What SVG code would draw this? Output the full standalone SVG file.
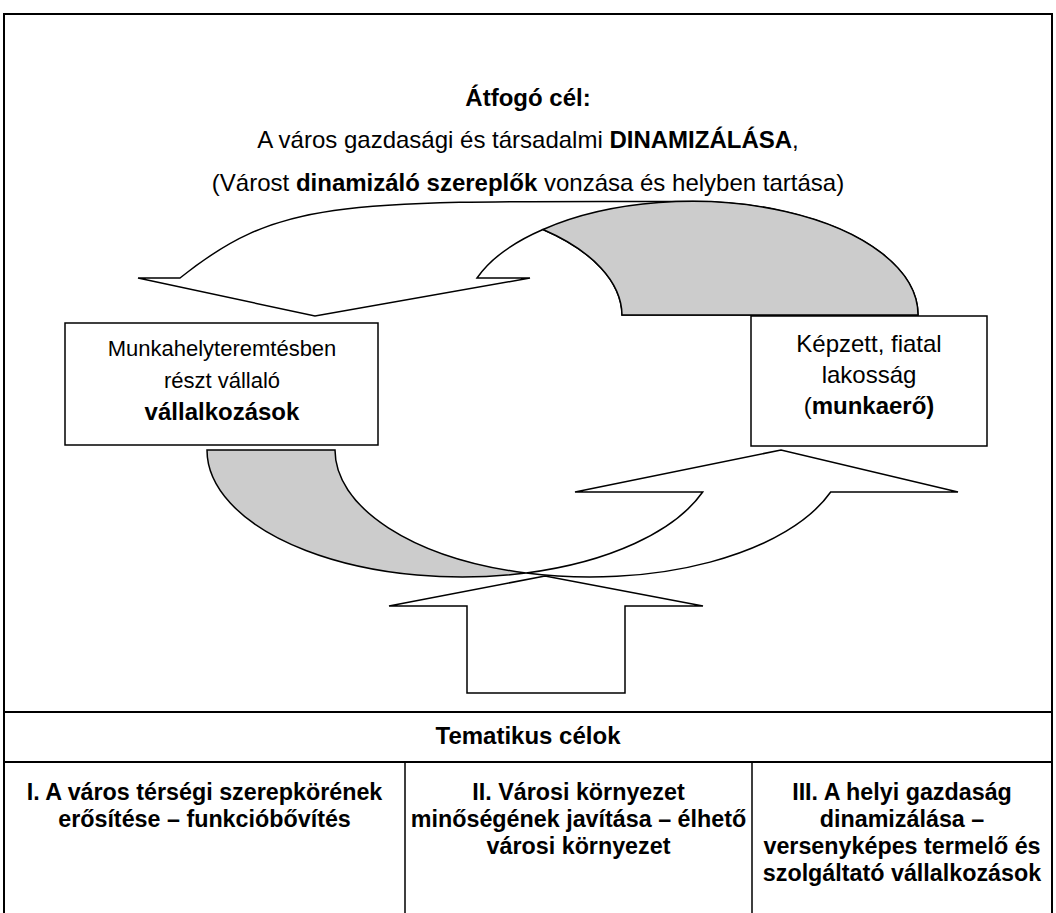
<svg xmlns="http://www.w3.org/2000/svg" width="1056" height="913" viewBox="0 0 1056 913">
<style>
.t{font-family:"Liberation Sans",Arial,sans-serif;font-size:24px;fill:#000;text-anchor:middle}
.b{font-weight:bold}
.s22{font-size:22px}
.s23{font-size:23.3px}
.frame{stroke:#000;stroke-width:2;fill:none}
.div{stroke:#000;stroke-width:1.5;fill:none}
.sh{stroke:#000;stroke-width:1.5;stroke-linejoin:miter;fill:none}
.grey{fill:#cccccc}
.box{stroke:#000;stroke-width:1.5;fill:none}
</style>
<rect width="1056" height="913" fill="#fff"/>
<g id="frame">
<path class="frame" d="M4,913 V14 H1052 V913"/>
<path class="frame" d="M4,712 H1052 M4,762 H1052"/>
<path class="div" d="M405,762 V913 M752,762 V913"/>
</g>
<g id="overall-goal">
<text class="t b" x="528" y="106">Átfogó cél:</text>
<text class="t" x="528" y="148">A város gazdasági és társadalmi <tspan class="b">DINAMIZÁLÁSA</tspan>,</text>
<text class="t" x="528" y="191">(Várost <tspan class="b">dinamizáló szereplők</tspan> vonzása és helyben tartása)</text>
</g>
<g id="connectors">
<path class="sh" d="M138,278 L180,278 C280,198 340,201 690,201.5 A226,113.5 0 0 1 918,315 L622,315 A226,113.5 0 0 0 543,229.5 A226,113.5 0 0 0 477,278 L530,278 L315,316 Z"/>
<path class="sh grey" d="M543,229.5 A226,113.5 0 0 1 918,315 L622,315 A226,113.5 0 0 0 543,229.5 Z"/>
<path class="sh grey" d="M207,450 L335,450 A255,127 0 0 0 526,573 A255,127 0 0 1 207,450 Z"/>
<path class="sh" d="M526,573 A255,127 0 0 0 702.7,492 L575,492 L781,450 L958,492 L830.7,492 A255,127 0 0 1 526,573 Z"/>
<path class="sh" d="M389,606 L545,576 L703,606 L625,606 L625,693 L467,693 L467,606 Z"/>
</g>
<g id="node-enterprises">
<rect class="box" x="65" y="323" width="313" height="122"/>
<text class="t s22" x="222" y="356">Munkahelyteremtésben</text>
<text class="t s22" x="222" y="388">részt vállaló</text>
<text class="t b" x="222" y="420">vállalkozások</text>
</g>
<g id="node-workforce">
<rect class="box" x="751" y="316" width="236" height="130"/>
<text class="t" x="869" y="352">Képzett, fiatal</text>
<text class="t" x="869" y="383">lakosság</text>
<text class="t" x="869" y="414">(<tspan class="b">munkaerő)</tspan></text>
</g>
<g id="thematic-goals">
<text class="t b" x="528" y="744">Tematikus célok</text>
</g>
<g id="goal-1">
<text class="t b s23" x="204.5" y="800">I. A város térségi szerepkörének</text>
<text class="t b s23" x="204.5" y="827">erősítése – funkcióbővítés</text>
</g>
<g id="goal-2">
<text class="t b s23" x="578.5" y="800">II. Városi környezet</text>
<text class="t b s23" x="578.5" y="827">minőségének javítása – élhető</text>
<text class="t b s23" x="578.5" y="854">városi környezet</text>
</g>
<g id="goal-3">
<text class="t b s23" x="902" y="800">III. A helyi gazdaság</text>
<text class="t b s23" x="902" y="827">dinamizálása –</text>
<text class="t b s23" x="902" y="854">versenyképes termelő és</text>
<text class="t b s23" x="902" y="881">szolgáltató vállalkozások</text>
</g>
</svg>
